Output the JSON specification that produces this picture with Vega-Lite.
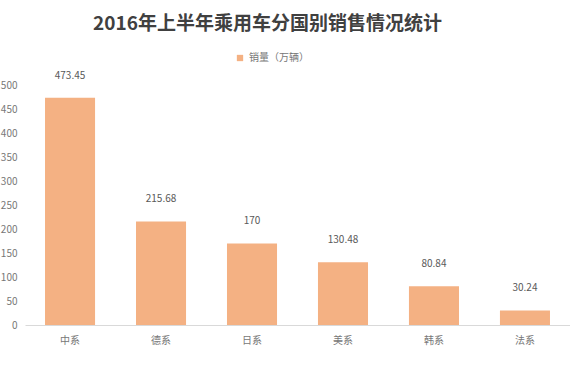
{
  "$schema": "https://vega.github.io/schema/vega-lite/v6.json",
  "width": 545,
  "height": 240,
  "autosize": {"type": "none"},
  "padding": {"left": 25, "top": 85, "right": 0, "bottom": 55},
  "background": "white",
  "config": {
    "font": "Noto Sans CJK SC",
    "view": {"stroke": null}
  },
  "title": {
    "text": "2016年上半年乘用车分国别销售情况统计",
    "font": "Noto Sans CJK SC",
    "fontSize": 19,
    "fontWeight": "bold",
    "color": "#404040",
    "anchor": "middle",
    "dx": -30,
    "offset": 19
  },
  "data": {
    "values": [
      {"country": "中系", "sales": 473.45, "series": "销量（万辆）"},
      {"country": "德系", "sales": 215.68, "series": "销量（万辆）"},
      {"country": "日系", "sales": 170, "series": "销量（万辆）"},
      {"country": "美系", "sales": 130.48, "series": "销量（万辆）"},
      {"country": "韩系", "sales": 80.84, "series": "销量（万辆）"},
      {"country": "法系", "sales": 30.24, "series": "销量（万辆）"}
    ]
  },
  "encoding": {
    "x": {
      "field": "country",
      "type": "nominal",
      "sort": null,
      "scale": {"paddingInner": 0.45, "paddingOuter": 0.22},
      "axis": {
        "title": null,
        "labelAngle": 0,
        "labelColor": "#777777",
        "labelFontSize": 10,
        "labelPadding": 10,
        "ticks": false,
        "domainColor": "#d9d9d9",
        "grid": false
      }
    },
    "y": {
      "field": "sales",
      "type": "quantitative",
      "scale": {"domain": [0, 500]},
      "axis": {
        "title": null,
        "values": [0, 50, 100, 150, 200, 250, 300, 350, 400, 450, 500],
        "labelColor": "#777777",
        "labelFontSize": 10,
        "labelPadding": 8,
        "ticks": false,
        "domain": false,
        "grid": false
      }
    }
  },
  "layer": [
    {
      "mark": {"type": "bar", "color": "#F4B183"},
      "encoding": {
        "color": {
          "field": "series",
          "type": "nominal",
          "scale": {"range": ["#F4B183"]},
          "legend": {
            "title": null,
            "orient": "none",
            "legendX": 210,
            "legendY": -32,
            "symbolType": "square",
            "symbolSize": 40,
            "labelColor": "#777777",
            "labelFontSize": 10
          }
        }
      }
    },
    {
      "mark": {"type": "text", "dy": -22, "fontSize": 10, "color": "#595959"},
      "encoding": {
        "text": {"field": "sales", "type": "quantitative"}
      }
    }
  ]
}
